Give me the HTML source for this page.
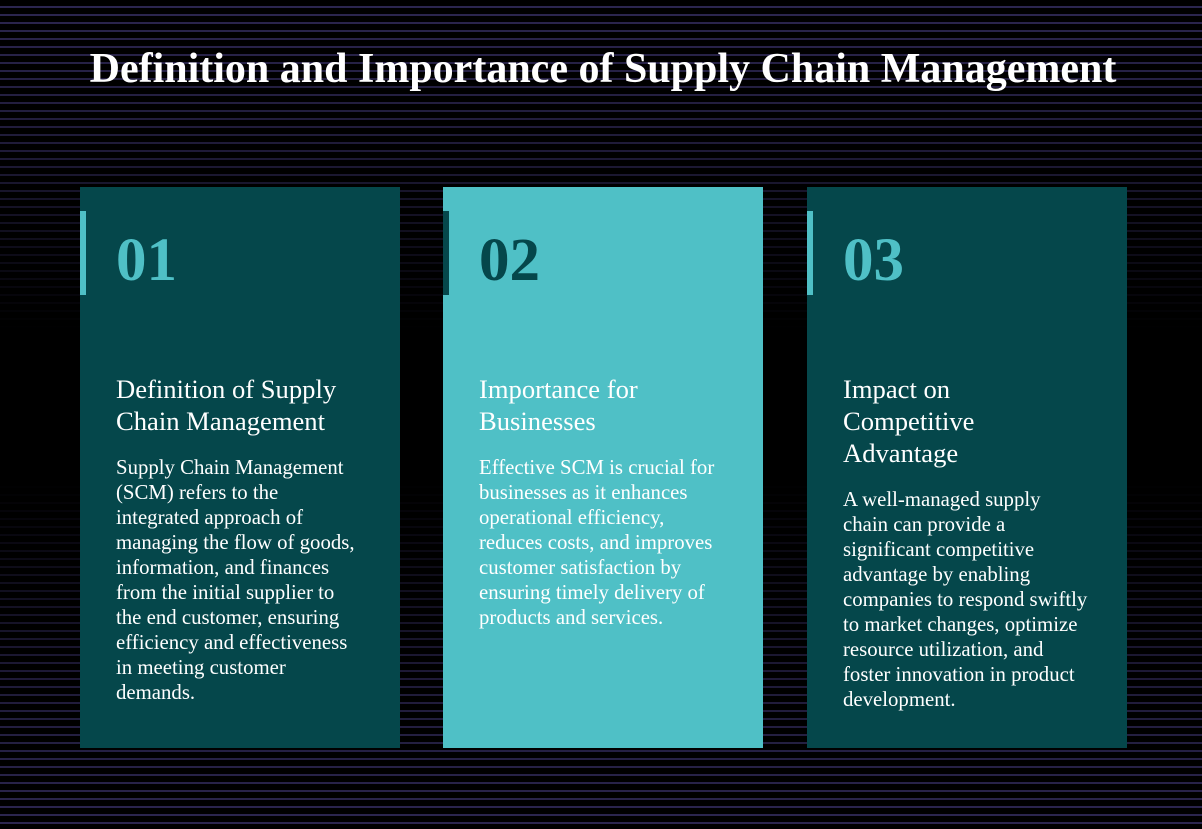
<!DOCTYPE html>
<html><head><meta charset="utf-8"><style>
body{margin:0;width:1202px;height:829px;overflow:hidden;background:#000;font-family:"Liberation Serif",serif;position:relative}
.bg{position:absolute;inset:0;background:repeating-linear-gradient(180deg,#000 0,#000 6px,#2c2650 6px,#2c2650 8px)}
.fade{position:absolute;inset:0;background:linear-gradient(180deg,rgba(0,0,0,0) 0,rgba(0,0,0,0.3) 150px,rgba(0,0,0,1) 330px,rgba(0,0,0,1) 480px,rgba(0,0,0,0.3) 680px,rgba(0,0,0,0) 829px)}
h1{position:absolute;top:45px;left:2px;width:1202px;text-align:center;margin:0;color:#fff;font-size:42px;font-weight:bold;white-space:nowrap}
.card{position:absolute;top:187px;width:320px;height:561px;background:#05474b}
.card.alt{background:#4fc0c6}
.bar{position:absolute;left:0;top:24px;width:6px;height:84px;background:#4fc0c6}
.alt .bar{background:#05474b}
.num{position:absolute;left:36px;top:39px;font-size:61px;font-weight:bold;color:#4fc0c6}
.alt .num{color:#05474b}
.h{position:absolute;left:36px;top:186px;width:250px;font-size:26.6px;line-height:32px;color:#fff}
.p{position:absolute;left:36px;width:246px;font-size:20.8px;line-height:25px;color:#fff}
</style></head><body>
<div class="bg"></div>
<div class="fade"></div>
<h1>Definition and Importance of Supply Chain Management</h1>
<div class="card" style="left:80px">
<div class="bar"></div>
<div class="num">01</div>
<div class="h">Definition of Supply Chain Management</div>
<div class="p" style="top:268px">Supply Chain Management (SCM) refers to the integrated approach of managing the flow of goods, information, and finances from the initial supplier to the end customer, ensuring efficiency and effectiveness in meeting customer demands.</div>
</div>
<div class="card alt" style="left:443px">
<div class="bar"></div>
<div class="num">02</div>
<div class="h" style="width:190px">Importance for Businesses</div>
<div class="p" style="top:268px">Effective SCM is crucial for businesses as it enhances operational efficiency, reduces costs, and improves customer satisfaction by ensuring timely delivery of products and services.</div>
</div>
<div class="card" style="left:807px">
<div class="bar"></div>
<div class="num">03</div>
<div class="h" style="width:160px">Impact on Competitive Advantage</div>
<div class="p" style="top:300px">A well-managed supply chain can provide a significant competitive advantage by enabling companies to respond swiftly to market changes, optimize resource utilization, and foster innovation in product development.</div>
</div>
</body></html>
